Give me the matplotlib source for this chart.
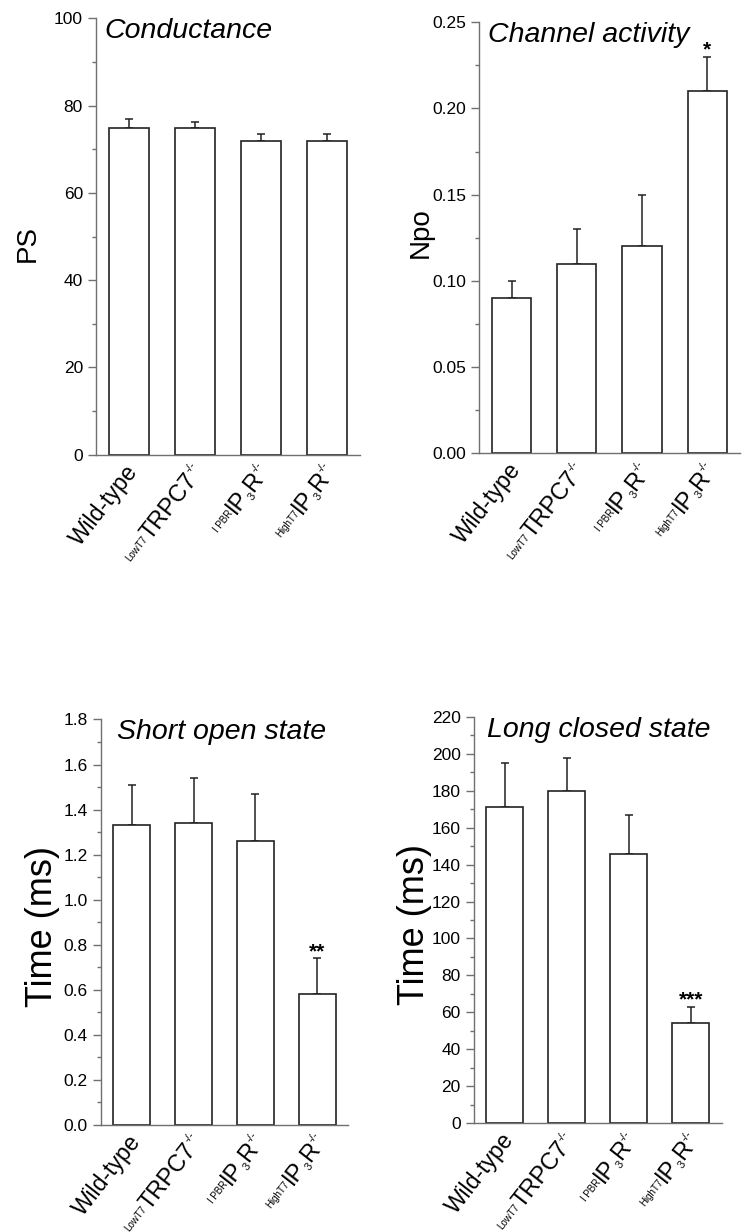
import math
import matplotlib
matplotlib.use("Agg")
import matplotlib.pyplot as plt
from matplotlib.ticker import MultipleLocator, FormatStrFormatter
from matplotlib.font_manager import FontProperties
from matplotlib.transforms import offset_copy

plt.rcParams["font.family"] = ["Liberation Sans", "DejaVu Sans"]

# ============================================================
# DATA
# ============================================================

# each group label: (text, size in pt, baseline shift in pt)
group_labels = [
    [("Wild-type", 16.5, 0)],
    [("LowT7", 7, 2), ("TRPC7", 17, 0), ("-/-", 8, 7.5)],
    [("I PBR", 7, 2), ("IP", 17, 0), ("3", 8, -3), ("R", 17, 0), ("-/-", 8, 7.5)],
    [("HighT7", 7, 2), ("IP", 17, 0), ("3", 8, -3), ("R", 17, 0), ("-/-", 8, 7.5)],
]

conductance = [75, 75, 72, 72]
conductance_err = [2.0, 1.3, 1.4, 1.6]

npo = [0.09, 0.11, 0.12, 0.21]
npo_err = [0.01, 0.02, 0.03, 0.02]

short_open = [1.33, 1.34, 1.26, 0.58]
short_open_err = [0.18, 0.20, 0.21, 0.16]

long_closed = [171, 180, 146, 54]
long_closed_err = [24, 18, 21, 9]

stars_npo = ["", "", "", "*"]
stars_short = ["", "", "", "**"]
stars_long = ["", "", "", "***"]

AXIS_GRAY = "#707070"
BAR_EDGE = "#222222"
ROT = 52


fig = plt.figure(figsize=(7.51, 12.32), dpi=100)
renderer = fig.canvas.get_renderer()


def text_width_pt(s, size):
    prop = FontProperties(family="Liberation Sans", size=size)
    w, h, d = renderer.get_text_width_height_descent(s, prop, ismath=False)
    return w * 72.0 / fig.dpi


def draw_group_label(ax, xi, pieces, dx=7.0, dy=-12.0):
    # pieces laid along a rotated baseline, right-aligned at the tick
    th = math.radians(ROT)
    ux, uy = math.cos(th), math.sin(th)
    nx, ny = -math.sin(th), math.cos(th)
    widths = [text_width_pt(s, sz) for s, sz, _ in pieces]
    total = sum(widths)
    pos = -total
    for (s, sz, shift), w in zip(pieces, widths):
        ox = dx + pos * ux + shift * nx
        oy = dy + pos * uy + shift * ny
        tr = offset_copy(ax.get_xaxis_transform(), fig=fig, x=ox, y=oy,
                         units="points")
        ax.text(xi, 0, s, transform=tr, fontsize=sz, rotation=ROT,
                rotation_mode="anchor", ha="left", va="baseline",
                clip_on=False)
        pos += w


def panel(rect, values, errs, title, title_x, ylabel, ylab_size, ylab_xy,
          ylim, major, minor, fmt, stars=None):
    ax = fig.add_axes(rect)
    x = list(range(len(values)))
    ax.bar(x, values, width=0.6, color="white", edgecolor=BAR_EDGE,
           linewidth=1.2, zorder=2)
    ax.errorbar(x, values, yerr=[[0] * len(errs), errs], fmt="none",
                ecolor=BAR_EDGE, elinewidth=1.1, capsize=3, capthick=1.1,
                zorder=1)

    ax.set_xlim(-0.5, 3.5)
    ax.set_ylim(*ylim)
    ax.yaxis.set_major_locator(MultipleLocator(major))
    ax.yaxis.set_minor_locator(MultipleLocator(minor))
    ax.yaxis.set_major_formatter(FormatStrFormatter(fmt))

    for s in ["top", "right"]:
        ax.spines[s].set_visible(False)
    for s in ["left", "bottom"]:
        ax.spines[s].set_color(AXIS_GRAY)
        ax.spines[s].set_linewidth(1.0)

    ax.tick_params(axis="y", which="major", length=6, width=1,
                   color=AXIS_GRAY, labelsize=12.5, pad=3.5)
    ax.tick_params(axis="y", which="minor", length=3, width=1,
                   color=AXIS_GRAY)
    ax.set_xticks([])

    for xi, pieces in zip(x, group_labels):
        draw_group_label(ax, xi, pieces)

    ax.set_ylabel(ylabel, fontsize=ylab_size)
    ax.yaxis.set_label_coords(*ylab_xy)
    ax.text(title_x, 1.0, title, transform=ax.transAxes, fontsize=20.5,
            style="italic", ha="left", va="top")

    if stars:
        for xi, v, e, s in zip(x, values, errs, stars):
            if s:
                ax.annotate(s, (xi, v + e), xytext=(0, -2),
                            textcoords="offset points", ha="center",
                            va="bottom", fontsize=15, fontweight="bold")
    return ax


panel([0.128, 0.631, 0.351, 0.354], conductance, conductance_err,
      "Conductance", 0.03, "PS", 20, (-0.21, 0.485),
      (0, 100), 20, 10, "%d")
panel([0.638, 0.632, 0.347, 0.350], npo, npo_err,
      "Channel activity", 0.034, "Npo", 20, (-0.176, 0.513),
      (0, 0.25), 0.05, 0.025, "%.2f", stars=stars_npo)
panel([0.1345, 0.087, 0.329, 0.329], short_open, short_open_err,
      "Short open state", 0.065, "Time (ms)", 26, (-0.168, 0.49),
      (0, 1.8), 0.2, 0.1, "%.1f", stars=stars_short)
panel([0.631, 0.0885, 0.330, 0.3295], long_closed, long_closed_err,
      "Long closed state", 0.052, "Time (ms)", 26, (-0.168, 0.49),
      (0, 220), 20, 10, "%d", stars=stars_long)

fig.savefig("out.png", dpi=100)
